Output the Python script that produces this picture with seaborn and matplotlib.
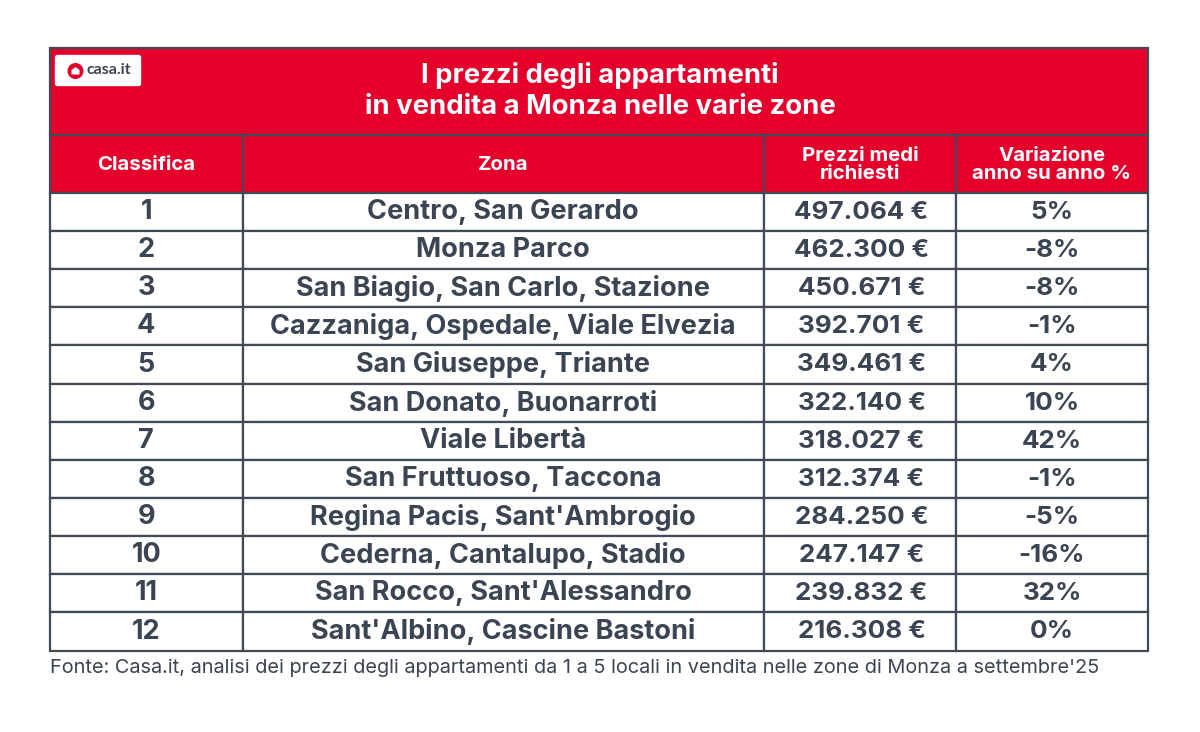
import matplotlib
matplotlib.use("Agg")
import matplotlib.pyplot as plt
from matplotlib.patches import Rectangle, FancyBboxPatch, Circle, Polygon
import seaborn as sns

title = "I prezzi degli appartamenti\nin vendita a Monza nelle varie zone"
headers = ["Classifica", "Zona", "Prezzi medi\nrichiesti", "Variazione\nanno su anno %"]
ranks = [str(i) for i in [1, 2, 3, 4, 5, 6, 7, 8, 9, 10, 11, 12]]
zones = ["Centro, San Gerardo", "Monza Parco", "San Biagio, San Carlo, Stazione",
         "Cazzaniga, Ospedale, Viale Elvezia", "San Giuseppe, Triante",
         "San Donato, Buonarroti", "Viale Libertà", "San Fruttuoso, Taccona",
         "Regina Pacis, Sant'Ambrogio", "Cederna, Cantalupo, Stadio",
         "San Rocco, Sant'Alessandro", "Sant'Albino, Cascine Bastoni"]
prices = ["497.064 €", "462.300 €", "450.671 €", "392.701 €", "349.461 €", "322.140 €",
          "318.027 €", "312.374 €", "284.250 €", "247.147 €", "239.832 €", "216.308 €"]
changes = ["5%", "-8%", "-8%", "-1%", "4%", "10%", "42%", "-1%", "-5%", "-16%", "32%", "0%"]
source = "Fonte: Casa.it, analisi dei prezzi degli appartamenti da 1 a 5 locali in vendita nelle zone di Monza a settembre'25"

RED = "#e4002b"
INK = "#3a4452"
LINE = "#414b57"
col_x = [50, 242.5, 764, 956, 1148]
row_y = [193, 231, 269, 307, 345, 384, 422, 460, 498, 536, 574, 612, 651]
top, head = 48, 135
body_sizes = [19.5, 19.5, 18.7, 18.7]
body_dx = [0, 0, 1.5, 0]

sns.set_theme(style="white")
plt.rcParams["font.family"] = ["Inter", "DejaVu Sans"]
fig = plt.figure(figsize=(12, 7.32), dpi=100, facecolor="white")
ax = fig.add_axes([0, 0, 1, 1])
ax.set_xlim(0, 1200)
ax.set_ylim(732, 0)
ax.axis("off")


def cell(x0, x1, y0, y1, fc):
    ax.add_patch(Rectangle((x0, y0), x1 - x0, y1 - y0, facecolor=fc, edgecolor=LINE, linewidth=1.6))


cell(col_x[0], col_x[-1], top, head, RED)
ax.text((col_x[0] + col_x[-1]) / 2 + 1, (top + head) / 2 - 0.5, title, color="white", ha="center", va="center",
        fontsize=19.8, fontweight="bold", linespacing=1.27)

for c, h in enumerate(headers):
    cell(col_x[c], col_x[c + 1], head, row_y[0], RED)
    ax.text((col_x[c] + col_x[c + 1]) / 2, (head + row_y[0]) / 2 + 1, h, color="white", ha="center", va="center",
            fontsize=14.7, fontweight="bold", linespacing=1.0)

for r in range(len(ranks)):
    y0, y1 = row_y[r], row_y[r + 1]
    for c, v in enumerate((ranks[r], zones[r], prices[r], changes[r])):
        cell(col_x[c], col_x[c + 1], y0, y1, "white")
        ax.text((col_x[c] + col_x[c + 1]) / 2 + body_dx[c], (y0 + y1) / 2 + 0.3, v, color=INK, ha="center", va="center",
                fontsize=body_sizes[c], fontweight="bold")

ax.text(50, 668, source, color=INK, ha="left", va="center", fontsize=14.35, fontweight="normal")

# logo badge
ax.add_patch(FancyBboxPatch((55.5, 55.5), 85, 30, boxstyle="round,pad=0,rounding_size=2", facecolor="white", edgecolor="white", linewidth=1))
ax.add_patch(Circle((75.5, 71), 8, facecolor=RED, edgecolor="none"))
ax.add_patch(Polygon([(71.5, 74.5), (71.5, 70), (75.5, 67), (79.5, 70), (79.5, 74.5)], closed=True, facecolor="white", edgecolor="none"))
ax.text(86.5, 70.5, "casa.it", color=INK, ha="left", va="center", fontsize=11.5, fontweight="bold", family="Lato")

fig.savefig("out.png", dpi=100, facecolor="white")
